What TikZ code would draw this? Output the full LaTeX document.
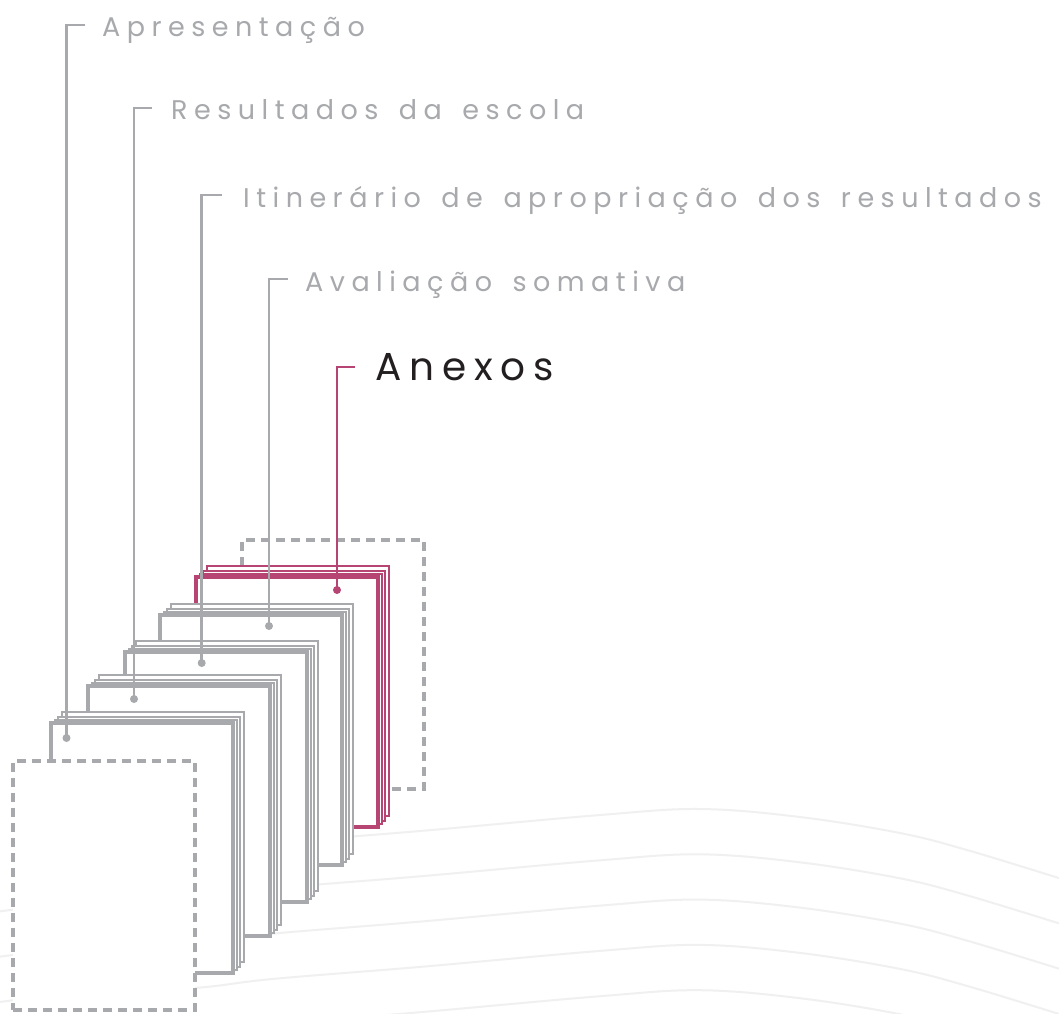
\documentclass[tikz,border=0pt]{standalone}
\usepackage{fontspec}
\setmainfont{Poppins}
\newfontfamily\lblfont[LetterSpace=24,WordSpace=1.5]{Poppins}
\newfontfamily\anxfont[LetterSpace=20]{Poppins}
\usetikzlibrary{positioning,calc}
\definecolor{linegray}{RGB}{167,169,172}
\definecolor{anxpink}{RGB}{182,69,115}
\definecolor{anxtext}{RGB}{35,31,32}
\definecolor{wavegray}{RGB}{240,240,240}

\begin{document}
\begin{tikzpicture}[x=1pt,y=-1pt,
		page/.style={draw=#1,fill=white,line width=3.4pt,minimum width=182pt,minimum height=250pt,inner sep=0pt,outer sep=0pt,anchor=north west},
		backpage/.style={draw=#1,fill=white,line width=2pt,minimum width=182pt,minimum height=250pt,inner sep=0pt,outer sep=0pt,anchor=north west},
		dashbox/.style={draw=linegray,fill=white,line width=3.4pt,dash pattern=on 9pt off 6pt,minimum width=182pt,minimum height=249pt,inner sep=0pt,outer sep=0pt,anchor=north west},
		leader/.style={draw=#1,line width=2.5pt},
		dot/.style={circle,fill=#1,inner sep=0pt,minimum size=8pt},
		lbl/.style={anchor=base west,inner sep=0pt,text=linegray,font=\lblfont\fontsize{27}{32}\selectfont},
		wave/.style={wavegray,line width=2pt}]
	
	\fill[white] (0,0) rectangle (1059,1013);
	\useasboundingbox (0,0) rectangle (1059,1013);
	
	% waves in the background
	\foreach \k/\xs in {0/20,1/0,2/0,3/0,4/0}
		\draw[wave,shift={(0,45.3*\k)}] plot[smooth,tension=0.6] coordinates {(\xs,866) (100,855) (195,852) (273,843) (420,831) (600,815) (700,809) (800,817) (900,833) (967,850) (1062,879)};
	
	\node[dashbox] (dashU) at (242,540) {};
	
	% stacks of pages, back to front
	\foreach \bx/\by/\bc/\bn in {196/577/anxpink/5, 160/615/linegray/4, 125/652/linegray/3, 88/686/linegray/2, 51/723/linegray/1}{
		\foreach \ox/\oy/\pn in {11/11.5/c, 7/6.5/b, 4/3.5/a}
			\node[backpage=\bc] (p\bn\pn) at (\bx+\ox,\by-\oy) {};
		\node[page=\bc] (p\bn) at (\bx,\by) {};
	}
	
	\node[dashbox] (dashL) at (13,761) {};
	
	\node[dot=linegray] (d1) at (66.5,738) {};
	\node[dot=linegray] (d2) at (134,699) {};
	\node[dot=linegray] (d3) at (201.7,663) {};
	\node[dot=linegray] (d4) at (269,626) {};
	\node[dot=anxpink] (d5) at (337,590) {};
	
	\coordinate (k1) at (85,25);
	\coordinate (k2) at (152,108);
	\coordinate (k3) at (221.7,195);
	\coordinate (k4) at (288,279);
	\coordinate (k5) at (355,367);
	
	\draw[leader=linegray] (d1.center) |- (k1);
	\draw[leader=linegray] (d2.center) |- (k2);
	\draw[leader=linegray] (d3.center) |- (k3);
	\draw[leader=linegray] (d4.center) |- (k4);
	\draw[leader=anxpink] (d5.center) |- (k5);
	
	\node[lbl] (l1) at (102,36.5) {Apresentação};
	\node[lbl] (l2) at (171,119.5) {Resultados da escola};
	\node[lbl] (l3) at (243,207.5) {Itinerário de apropriação dos resultados};
	\node[lbl] (l4) at (305,291) {Avaliação somativa};
	\node[lbl,text=anxtext,font=\anxfont\fontsize{39}{44}\selectfont] (l5) at (375,380) {Anexos};
	
\end{tikzpicture}
\end{document}
